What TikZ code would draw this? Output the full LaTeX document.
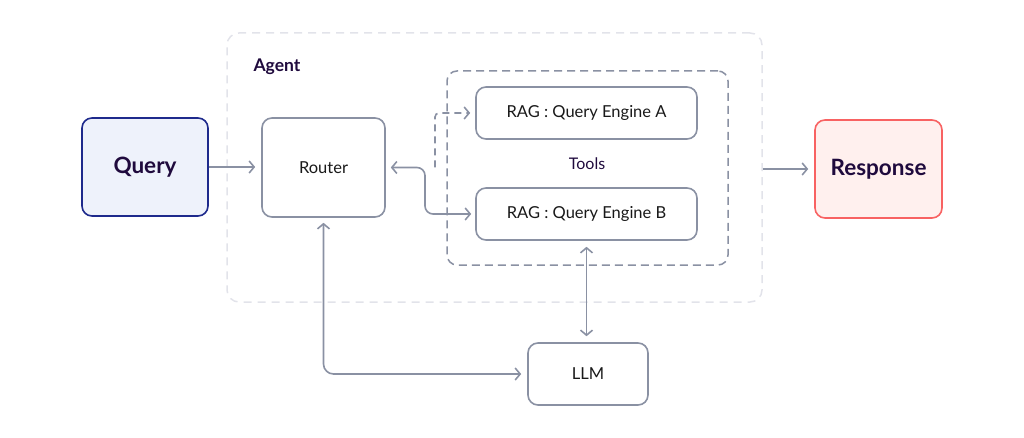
\documentclass[tikz,border=0pt]{standalone}
\usepackage{fontspec}
\setmainfont{Lato}
\usetikzlibrary{arrows.meta}
\definecolor{linegrey}{HTML}{8A91A3}
\definecolor{agentgrey}{HTML}{E2E3EA}
\definecolor{darkpurple}{HTML}{1F0A3D}
\definecolor{queryblue}{HTML}{1E2A8C}
\definecolor{queryfill}{HTML}{EEF2FB}
\definecolor{respred}{HTML}{F86262}
\definecolor{respfill}{HTML}{FFF0EE}
\tikzset{
  box/.style={draw=linegrey,line width=1.6pt,rounded corners=10pt,fill=white,
    inner sep=0pt,font=\fontsize{16.5}{19}\selectfont,text=black!90},
  bigbox/.style={box,minimum width=126pt,minimum height=98pt,
    font=\fontsize{22.5}{26}\selectfont\bfseries,text=darkpurple},
  link/.style={draw=linegrey,line width=1.6pt,-{Straight Barb[length=5pt,width=12pt]}}
}
\begin{document}
\begin{tikzpicture}[x=1pt,y=-1pt]
    \useasboundingbox (0,0) rectangle (1024,438);
    % frames
    \node[draw=agentgrey,line width=1.5pt,dashed,dash pattern=on 8pt off 6pt,
      rounded corners=12pt,minimum width=535pt,minimum height=269pt] (agent) at (494.5,167.5) {};
    \node[draw=linegrey,line width=1.5pt,dash pattern=on 8pt off 5pt,
      rounded corners=10pt,minimum width=281pt,minimum height=194pt] (tools) at (587.5,168) {};
    \node[anchor=west,font=\fontsize{17.5}{20}\selectfont\bfseries,text=darkpurple] (agentlbl) at (250,67) {Agent};
    \node[font=\fontsize{16}{19}\selectfont,text=darkpurple] (toolslbl) at (587,164) {Tools};
    % boxes
    \node[bigbox,draw=queryblue,fill=queryfill] (query) at (145,167) {Query};
    \node[box,minimum width=123pt,minimum height=99pt] (router) at (323.5,167.5) {Router};
    \node[bigbox,draw=respred,fill=respfill,minimum width=127pt] (response) at (878.5,169) {Response};
    \node[box,minimum width=221pt,minimum height=52pt] (ragA) at (586.5,113) {RAG : Query Engine A};
    \node[box,minimum width=221pt,minimum height=52pt] (ragB) at (586.5,214) {RAG : Query Engine B};
    \node[box,minimum width=120pt,minimum height=62pt] (llm) at (588,374) {LLM};
    \coordinate (split) at (435,167.5);
    % links
    \draw[link,shorten >=6pt] (query.east) -- (router.west |- query.east);
    \draw[link,shorten >=6pt] (agent.east |- response.west) -- (response.west);
    \draw[link,{Straight Barb[length=5pt,width=12pt]}-{Straight Barb[length=5pt,width=12pt]},
      rounded corners=8pt,shorten <=5pt,shorten >=4pt] (router.east) -- (425,167.5) |- (ragB.west);
    \draw[link,dash pattern=on 7pt off 5pt,rounded corners=4pt,shorten >=5pt] (split) |- (ragA.west);
    \draw[link,{Straight Barb[length=5pt,width=12pt]}-{Straight Barb[length=5pt,width=12pt]},
      rounded corners=10pt,shorten <=5pt,shorten >=6pt] (router.south) |- (llm.west);
    \draw[link,{Straight Barb[length=5pt,width=12pt]}-{Straight Barb[length=5pt,width=12pt]},
      shorten <=6pt,shorten >=6pt] (ragB.south) -- (ragB.south |- llm.north);
  \end{tikzpicture}
\end{document}
